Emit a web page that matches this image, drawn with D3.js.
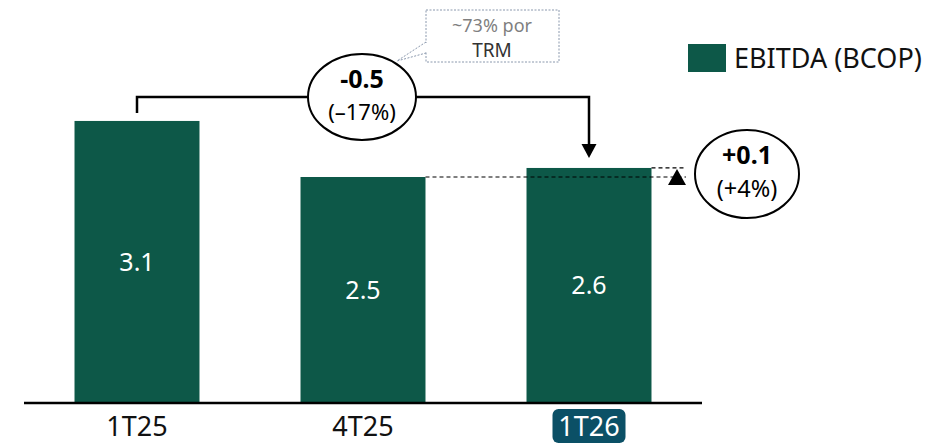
<!DOCTYPE html>
<html><head><meta charset="utf-8">
<script src="https://cdn.jsdelivr.net/npm/d3@7"></script>
<style>
html,body{margin:0;padding:0;background:#fff;}
svg{display:block;font-family:"Noto Sans",sans-serif;}
</style></head>
<body><svg id="c" width="950" height="445"></svg>
<script>
const categories = ["1T25", "4T25", "1T26"];
const ebitda = [3.12, 2.50, 2.60];
const seriesName = "EBITDA (BCOP)";
const calloutLines = ["~73% por", "TRM"];

const svg = d3.select("#c");
const x = d3.scaleBand().domain(categories).range([24, 702]).paddingInner(0.447).paddingOuter(0.2235);
const y = d3.scaleLinear().domain([0, 4.5]).range([403, 403 - 4.5 * 90.4]);
const barColor = "#0d5848";

// bars
svg.selectAll("rect.bar").data(categories).join("rect")
  .attr("x", d => x(d)).attr("width", x.bandwidth())
  .attr("y", (d, i) => y(ebitda[i])).attr("height", (d, i) => y(0) - y(ebitda[i]))
  .attr("fill", barColor);

svg.selectAll("text.val").data(categories).join("text")
  .attr("x", d => x(d) + x.bandwidth() / 2)
  .attr("y", (d, i) => (y(ebitda[i]) + y(0)) / 2 + 9)
  .attr("text-anchor", "middle").attr("fill", "#fff").attr("font-size", 25)
  .text((d, i) => d3.format(".1f")(ebitda[i]));

// axis
const xAxis = svg.append("g").attr("transform", `translate(0,${y(0)})`)
  .call(d3.axisBottom(x).tickSize(0).tickPadding(0));
xAxis.select(".domain").attr("stroke", "#000").attr("stroke-width", 2.5).attr("d", "M24,0H702");
xAxis.selectAll(".tick text").remove();
const last = categories[categories.length - 1];
xAxis.selectAll(".tick").filter(d => d === last).insert("rect", ":first-child")
  .attr("x", -36.5).attr("y", 6).attr("width", 73).attr("height", 34).attr("rx", 6)
  .attr("fill", "#0b5066");
xAxis.selectAll(".tick").append("text")
  .attr("y", 33).attr("text-anchor", "middle").attr("font-size", 27)
  .attr("fill", d => d === last ? "#fff" : "#111").attr("font-family", "Noto Sans")
  .text(d => d);

// dashed reference lines
const x2r = x(categories[1]) + x.bandwidth();
const x3r = x(categories[2]) + x.bandwidth();
svg.append("line").attr("x1", x2r).attr("x2", 686).attr("y1", y(ebitda[1])).attr("y2", y(ebitda[1]))
  .attr("stroke", "#000").attr("stroke-width", 1.2).attr("stroke-dasharray", "4,3");
svg.append("line").attr("x1", x3r).attr("x2", 686).attr("y1", y(ebitda[2])).attr("y2", y(ebitda[2]))
  .attr("stroke", "#000").attr("stroke-width", 1.2).attr("stroke-dasharray", "4,3");
// up triangle
const ty = y(ebitda[2]);
svg.append("path").attr("d", `M677,${ty + 1}L686,${ty + 17}L668,${ty + 17}Z`).attr("fill", "#000");

// bracket arrow 1T25 -> 1T26
const c1 = x(categories[0]) + x.bandwidth() / 2, c3 = x(categories[2]) + x.bandwidth() / 2;
const by = 97;
svg.append("path").attr("d", `M${c1},${y(ebitda[0]) - 8}V${by}H${c3}V${y(ebitda[2]) - 22}`)
  .attr("fill", "none").attr("stroke", "#000").attr("stroke-width", 2.5);
svg.append("path").attr("d", `M${c3 - 7.5},${y(ebitda[2]) - 24}L${c3 + 7.5},${y(ebitda[2]) - 24}L${c3},${y(ebitda[2]) - 10}Z`).attr("fill", "#000");

// callout box
svg.append("path").attr("d", "M426,42L397,61L426,53")
  .attr("fill", "#fff").attr("stroke", "#8a98ad").attr("stroke-width", 1).attr("stroke-dasharray", "2,1.5");
svg.append("rect").attr("x", 426).attr("y", 10).attr("width", 133).attr("height", 52)
  .attr("fill", "#fff").attr("stroke", "#8a98ad").attr("stroke-width", 1).attr("stroke-dasharray", "2,1.5");
svg.append("line").attr("x1", 426).attr("x2", 426).attr("y1", 43).attr("y2", 52).attr("stroke", "#fff").attr("stroke-width", 2);
svg.append("text").attr("x", 492).attr("y", 32).attr("text-anchor", "middle").attr("font-size", 18)
  .attr("fill", "#7f7f7f").text(calloutLines[0]);
svg.append("text").attr("x", 492).attr("y", 57).attr("text-anchor", "middle").attr("font-size", 19)
  .attr("fill", "#333").text(calloutLines[1]);

// ellipses
function bubble(cx, cy, rx, ry, l1, l2, s1, s2, o1, o2) {
  svg.append("ellipse").attr("cx", cx).attr("cy", cy).attr("rx", rx).attr("ry", ry)
    .attr("fill", "#fff").attr("stroke", "#000").attr("stroke-width", 2);
  svg.append("text").attr("x", cx).attr("y", cy + o1).attr("text-anchor", "middle")
    .attr("font-size", s1).attr("font-weight", "bold").attr("fill", "#000").text(l1);
  svg.append("text").attr("x", cx).attr("y", cy + o2).attr("text-anchor", "middle")
    .attr("font-size", s2).attr("fill", "#000").text(l2);
}
const fmtD = v => (v >= 0 ? "+" : "-") + d3.format(".1f")(Math.abs(v));
const d1 = ebitda[2] - ebitda[0], p1 = d1 / ebitda[0] * 100;
const d2 = ebitda[2] - ebitda[1], p2 = d2 / ebitda[1] * 100;
bubble(362, 97, 54, 43, fmtD(d1), `(${p1 < 0 ? "–" : "+"}${Math.abs(Math.round(p1))}%)`, 25, 22, -9, 23);
bubble(747, 174, 52, 44, fmtD(d2), `(${p2 < 0 ? "–" : "+"}${Math.abs(Math.round(p2))}%)`, 25, 23.5, -10, 23);

// legend
svg.append("rect").attr("x", 688).attr("y", 44).attr("width", 38).attr("height", 28).attr("fill", barColor);
svg.append("text").attr("x", 734).attr("y", 68).attr("font-size", 27).attr("fill", "#111").text(seriesName);
</script></body></html>
